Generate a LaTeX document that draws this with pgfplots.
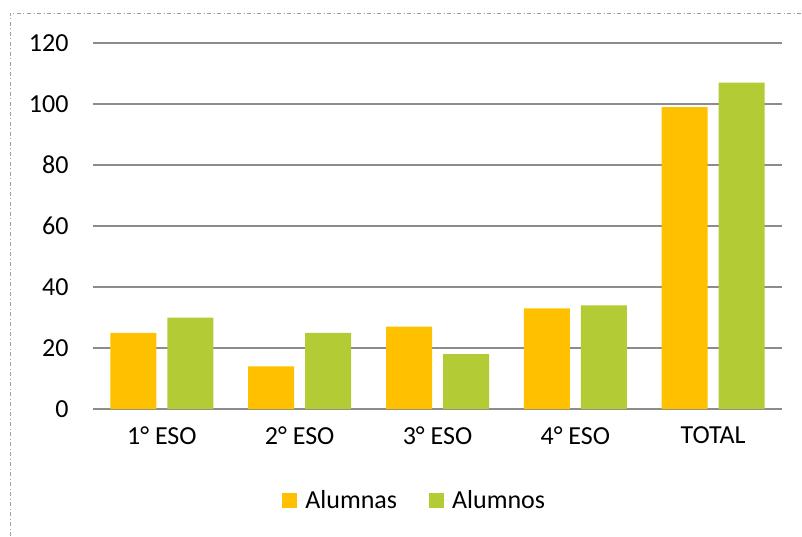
\documentclass[border=0pt]{standalone}
\usepackage{pgfplots}
\pgfplotsset{compat=1.18}
\usepackage{fontspec}
\setmainfont{Carlito}
\definecolor{cOr}{HTML}{FFC000}
\definecolor{cGr}{HTML}{B3CB34}
\definecolor{cGrid}{HTML}{8C8C8C}
\begin{document}
\begin{tikzpicture}[x=1pt,y=1pt]
\useasboundingbox (0,0) rectangle (802,536);
\draw[gray!75, line width=0.9pt, dash pattern=on 4pt off 2.5pt on 1pt off 2.5pt] (10,-20) rectangle (830,523);
\begin{axis}[
  at={(93pt,127pt)}, anchor=south west,
  scale only axis, width=689pt, height=366pt,
  ybar=11pt, bar width=46pt,
  xmin=-0.5, xmax=4.5, ymin=0, ymax=120,
  xtick=data, xticklabels={1° ESO,2° ESO,3° ESO,4° ESO,TOTAL},
  ytick={0,20,...,120},
  major tick length=0pt,
  axis line style={draw=none},
  ymajorgrids, grid style={cGrid, line width=1.6pt},
  tick label style={font=\fontsize{26}{30}\selectfont, text=black},
  /pgf/number format/assume math mode=true,
  yticklabel style={xshift=-21pt},
  xticklabel style={yshift=-14pt},
  legend style={at={(0.467,-0.249)}, anchor=center, draw=none, fill=none,
    font=\fontsize{26}{30}\selectfont, legend columns=2,
    /tikz/every even column/.append style={column sep=30pt}},
  legend image code/.code={\fill[#1] (0pt,-7.5pt) rectangle (15pt,7.5pt); \path (0pt,0pt) -- (21pt,0pt);},
]
\addplot[fill=cOr, draw=none] coordinates {(0,25) (1,14) (2,27) (3,33) (4,99)};
\addplot[fill=cGr, draw=none] coordinates {(0,30) (1,25) (2,18) (3,34) (4,107)};
\legend{Alumnas,Alumnos}
\end{axis}
\end{tikzpicture}
\end{document}
